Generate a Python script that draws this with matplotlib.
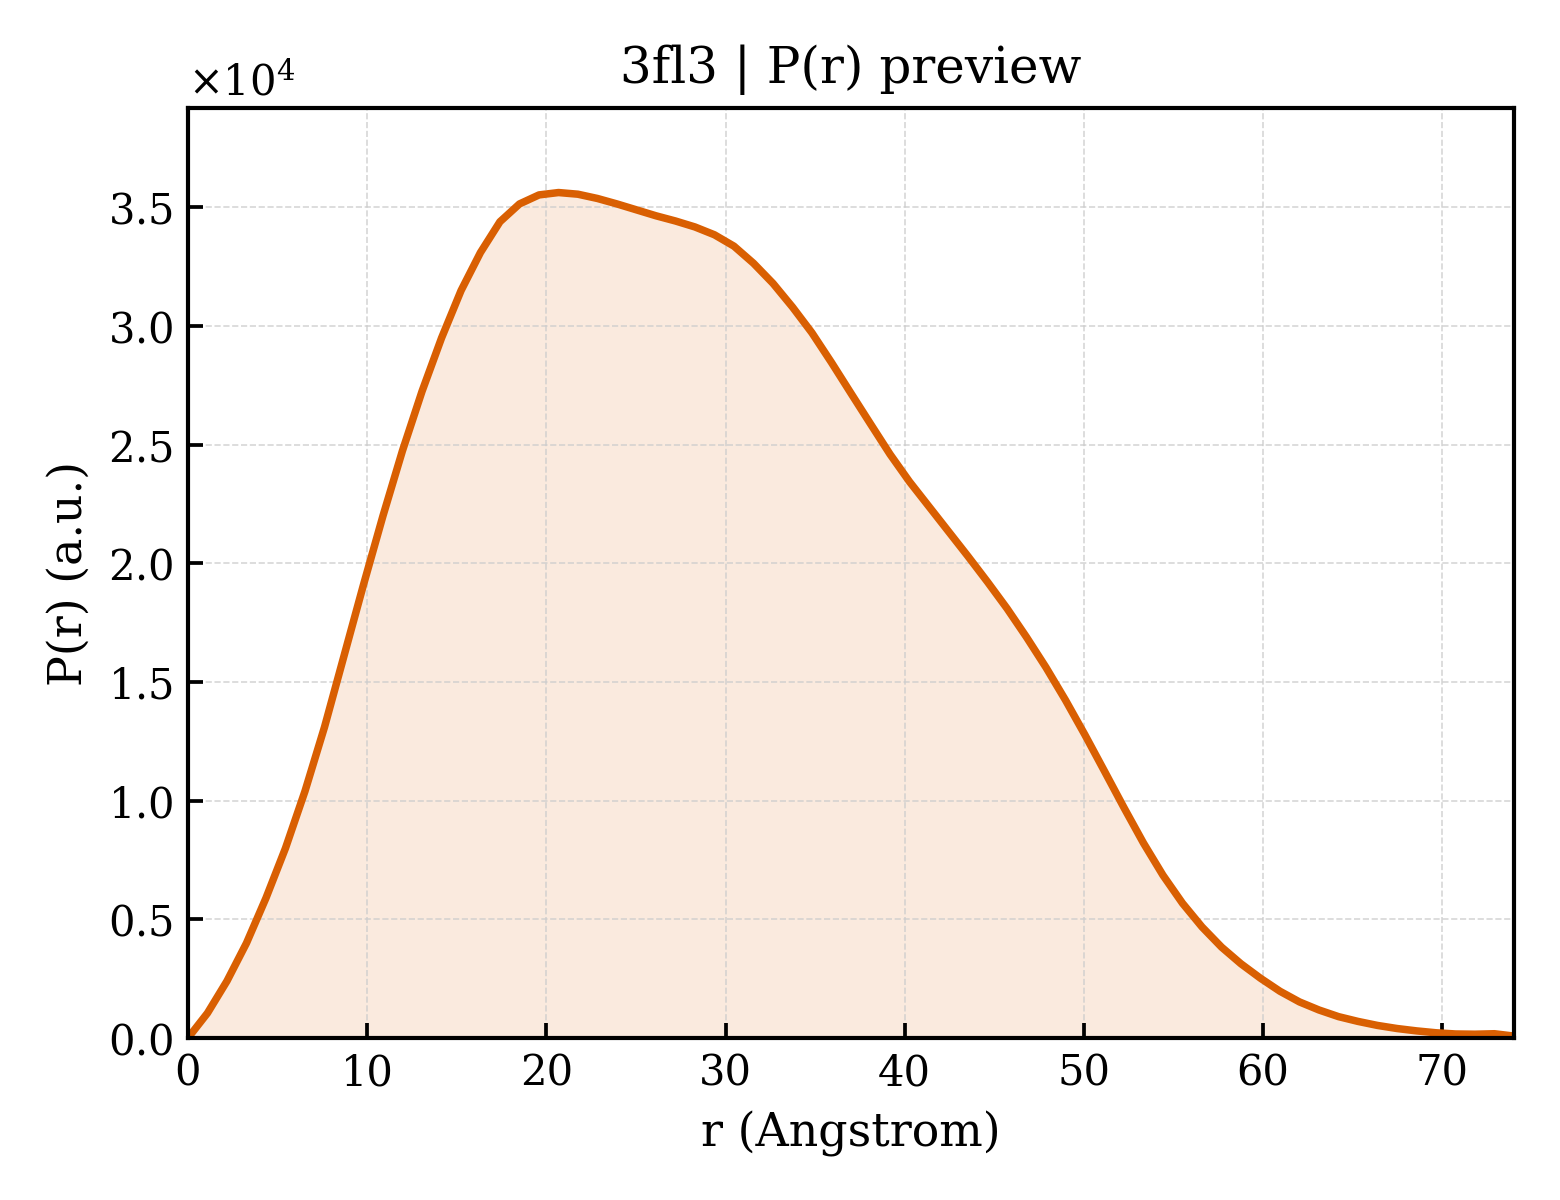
import numpy as np
import matplotlib
matplotlib.use("Agg")
import matplotlib.pyplot as plt

# P(r) curve (r in Angstrom, P in units of 1e4)
r_vals = [0.0, 1.088, 2.176, 3.265, 4.353, 5.441, 6.529, 7.618, 8.706, 9.794,
          10.88, 11.97, 13.06, 14.15, 15.24, 16.32, 17.41, 18.50, 19.59, 20.68,
          21.76, 22.85, 23.94, 25.03, 26.12, 27.21, 28.29, 29.38, 30.47, 31.56,
          32.65, 33.74, 34.82, 35.91, 37.00, 38.09, 39.18, 40.26, 41.35, 42.44,
          43.53, 44.62, 45.71, 46.79, 47.88, 48.97, 50.06, 51.15, 52.24, 53.32,
          54.41, 55.50, 56.59, 57.68, 58.76, 59.85, 60.94, 62.03, 63.12, 64.21,
          65.29, 66.38, 67.47, 68.56, 69.65, 70.74, 71.82, 72.91, 74.00]
p_vals = [0.0, 0.105, 0.24, 0.40, 0.59, 0.80, 1.04, 1.31, 1.61, 1.91,
          2.20, 2.475, 2.725, 2.95, 3.15, 3.31, 3.44, 3.515, 3.553, 3.563,
          3.556, 3.538, 3.515, 3.49, 3.465, 3.443, 3.418, 3.385, 3.337, 3.265,
          3.18, 3.08, 2.972, 2.847, 2.717, 2.588, 2.46, 2.345, 2.24, 2.135,
          2.03, 1.922, 1.81, 1.69, 1.562, 1.424, 1.277, 1.124, 0.97, 0.822,
          0.686, 0.568, 0.468, 0.383, 0.313, 0.252, 0.197, 0.152, 0.118, 0.090,
          0.070, 0.053, 0.040, 0.030, 0.022, 0.017, 0.016, 0.018, 0.008]

title = "3fl3 | P(r) preview"
color = "#D95F02"

plt.rcParams["font.family"] = "DejaVu Serif"
plt.rcParams["mathtext.fontset"] = "dejavuserif"

r = np.array(r_vals)
p = np.array(p_vals) * 1e4

fig, ax = plt.subplots(figsize=(5.2, 4.0), dpi=300)
fig.subplots_adjust(left=0.1205, right=0.9705, top=0.91, bottom=0.135)

ax.fill_between(r, p, 0, color=color, alpha=0.13, linewidth=0)
ax.plot(r, p, color=color, linewidth=1.8)

ax.set_xlim(0, r.max())
ax.set_ylim(0, p.max() * 1.1)
ax.set_xlabel("r (Angstrom)", fontsize=11)
ax.set_ylabel("P(r) (a.u.)", fontsize=11)
ax.set_title(title, fontsize=12)

ax.ticklabel_format(style="sci", axis="y", scilimits=(0, 0), useMathText=True)
ax.yaxis.get_offset_text().set_fontsize(10)
ax.tick_params(direction="in", labelsize=10, length=3.5, width=0.9)
ax.grid(True, linestyle="--", linewidth=0.4, color="#cccccc", alpha=0.8)
for s in ax.spines.values():
    s.set_linewidth(1.0)

fig.savefig("out.png", dpi=300)
